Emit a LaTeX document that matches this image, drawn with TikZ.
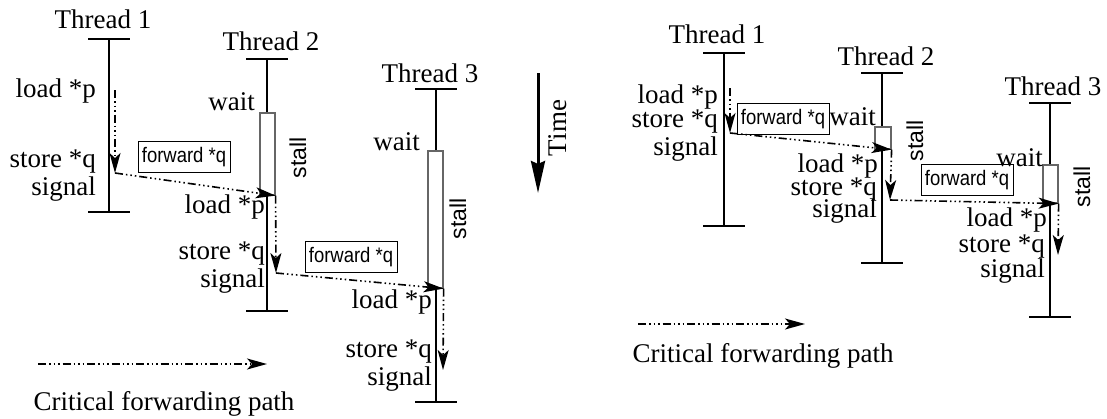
\documentclass[tikz,border=0pt]{standalone}
\usepackage{fontspec}
\setmainfont{Liberation Serif}
\newfontfamily\boxsans[FakeStretch=0.88]{Liberation Sans}
\newfontfamily\stallsans{Liberation Sans}
\usetikzlibrary{arrows.meta}
\newcommand\lblfont{\fontsize{27}{30}\selectfont}
\newcommand\boxfont{\boxsans\fontsize{21}{24}\selectfont}
\newcommand\stallfont{\stallsans\fontsize{23}{25}\selectfont}

\begin{document}
\begin{tikzpicture}[x=1pt, y=-1pt,
        lbl/.style={font=\lblfont, inner sep=0pt, anchor=base east},
        title/.style={font=\lblfont, inner sep=0pt, anchor=base},
        fwdbox/.style={draw, line width=1pt, font=\boxfont, inner sep=0pt, minimum width=92pt, minimum height=31pt},
        stalllbl/.style={font=\stallfont, rotate=90, inner sep=0pt},
        stallbox/.style={draw=black!60, fill=white, line width=1.2pt, inner sep=0pt},
        thread/.style={line width=1.5pt},
        fwd/.style={line width=1.6pt, dash pattern=on 8pt off 3pt on 1.5pt off 3pt on 1.5pt off 3pt on 1.5pt off 3pt, -{Stealth[length=20pt, width=11pt, inset=5pt]}},
        timearrow/.style={line width=3pt, -{Stealth[length=32pt, width=14pt, inset=3pt]}}
    ]
    \useasboundingbox (0,0) rectangle (1107,418);

    % left picture
    \node[title] (lt1) at (103,28) {Thread 1};
    \node[title] (lt2) at (271,50) {Thread 2};
    \node[title] (lt3) at (430,82) {Thread 3};
    \coordinate (lt1top) at (109,39);  \coordinate (lt1bot) at (109,212);
    \coordinate (lt2top) at (267,59);  \coordinate (lt2bot) at (267,311);
    \coordinate (lt3top) at (436,89);  \coordinate (lt3bot) at (436,402);
    \draw[thread] (lt1top) +(-21,0) -- +(21,0) (lt1top) -- (lt1bot) +(-21,0) -- +(21,0);
    \draw[thread] (lt2top) +(-21,0) -- +(21,0) (lt2top) -- (lt2bot) +(-21,0) -- +(21,0);
    \draw[thread] (lt3top) +(-21,0) -- +(21,0) (lt3top) -- (lt3bot) +(-21,0) -- +(21,0);
    \node[stallbox, minimum width=15pt, minimum height=82pt] (lt2stall) at (267.5,154) {};
    \node[stallbox, minimum width=15pt, minimum height=137pt] (lt3stall) at (435.5,219.5) {};
    \node[stalllbl] (lt2st) at (298,158) {stall};
    \node[stalllbl] (lt3st) at (458,219) {stall};

    \node[lbl] (lt1load) at (96,97) {load *p};
    \node[lbl] (lt1store) at (96,167) {store *q};
    \node[lbl] (lt1sig) at (96,195) {signal};
    \node[lbl] (lt2wait) at (255,110) {wait};
    \node[lbl] (lt2load) at (265,213) {load *p};
    \node[lbl] (lt2store) at (265,259) {store *q};
    \node[lbl] (lt2sig) at (265,287) {signal};
    \node[lbl] (lt3wait) at (420,150) {wait};
    \node[lbl] (lt3load) at (432,308) {load *p};
    \node[lbl] (lt3store) at (432,357) {store *q};
    \node[lbl] (lt3sig) at (432,385) {signal};

    \node[fwdbox] (lbox1) at (184,157) {forward *q};
    \node[fwdbox] (lbox2) at (351,257) {forward *q};

    \coordinate (lt1a) at (115,90);
    \coordinate (lt1b) at (115,173);
    \coordinate (lt2b) at (276,273);
    \coordinate (lt3b) at (443,370);
    \draw[fwd] (lt1a) -- (lt1b);
    \draw[fwd] (lt1b) -- (lt2stall.south east);
    \draw[fwd] (lt2stall.south east) -- (lt2b);
    \draw[fwd] (lt2b) -- (lt3stall.south east);
    \draw[fwd] (lt3stall.south east) -- (lt3b);

    \coordinate (time1) at (538,73);
    \coordinate (time2) at (538,193);
    \draw[timearrow] (time1) -- (time2);
    \node[font=\lblfont, rotate=90, inner sep=0pt] (time) at (558,128) {Time};

    \coordinate (lleg1) at (38,364);
    \coordinate (lleg2) at (267,364);
    \draw[fwd] (lleg1) -- (lleg2);
    \node[title] (llegtxt) at (164,410) {Critical forwarding path};

    % right picture
    \node[title] (rt1) at (717,43) {Thread 1};
    \node[title] (rt2) at (886,65) {Thread 2};
    \node[title] (rt3) at (1053,95) {Thread 3};
    \coordinate (rt1top) at (724,53);   \coordinate (rt1bot) at (724,226);
    \coordinate (rt2top) at (882,73);   \coordinate (rt2bot) at (882,263);
    \coordinate (rt3top) at (1050,103); \coordinate (rt3bot) at (1050,317);
    \draw[thread] (rt1top) +(-21,0) -- +(21,0) (rt1top) -- (rt1bot) +(-21,0) -- +(21,0);
    \draw[thread] (rt2top) +(-21,0) -- +(21,0) (rt2top) -- (rt2bot) +(-21,0) -- +(21,0);
    \draw[thread] (rt3top) +(-21,0) -- +(21,0) (rt3top) -- (rt3bot) +(-21,0) -- +(21,0);
    \node[stallbox, minimum width=16pt, minimum height=22pt] (rt2stall) at (883,138) {};
    \node[stallbox, minimum width=15pt, minimum height=38pt] (rt3stall) at (1050.5,184) {};
    \node[stalllbl] (rt2st) at (915,141) {stall};
    \node[stalllbl] (rt3st) at (1082,187) {stall};

    \node[lbl] (rt1load) at (718,103) {load *p};
    \node[lbl] (rt1store) at (718,127) {store *q};
    \node[lbl] (rt1sig) at (718,155) {signal};
    \node[lbl] (rt2wait) at (876,125) {wait};
    \node[lbl] (rt2load) at (878,172) {load *p};
    \node[lbl] (rt2store) at (877,195) {store *q};
    \node[lbl] (rt2sig) at (877,217) {signal};
    \node[lbl] (rt3wait) at (1043,166) {wait};
    \node[lbl] (rt3load) at (1047,226) {load *p};
    \node[lbl] (rt3store) at (1045,252) {store *q};
    \node[lbl] (rt3sig) at (1045,277) {signal};

    \node[fwdbox] (rbox1) at (783,119) {forward *q};
    \node[fwdbox] (rbox2) at (967,180) {forward *q};

    \coordinate (rt1a) at (730,88);
    \coordinate (rt1b) at (730,133);
    \coordinate (rt2b) at (890,200);
    \coordinate (rt3b) at (1058,255);
    \draw[fwd] (rt1a) -- (rt1b);
    \draw[fwd] (rt1b) -- (rt2stall.south east);
    \draw[fwd] (rt2stall.south east) -- (rt2b);
    \draw[fwd] (rt2b) -- (rt3stall.south east);
    \draw[fwd] (rt3stall.south east) -- (rt3b);

    \coordinate (rleg1) at (638,324);
    \coordinate (rleg2) at (805,324);
    \draw[fwd] (rleg1) -- (rleg2);
    \node[title] (rlegtxt) at (763,362) {Critical forwarding path};
\end{tikzpicture}
\end{document}
